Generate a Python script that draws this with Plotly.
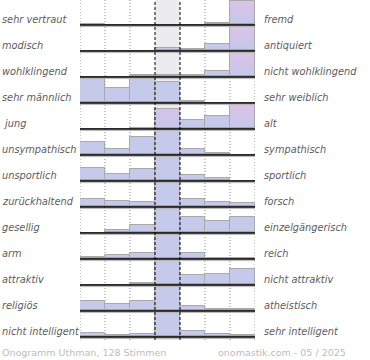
import plotly.graph_objects as go

# ---------------- data ----------------
left_labels = ["sehr vertraut", "modisch", "wohlklingend", "sehr männlich", "\u00a0jung",
               "unsympathisch", "unsportlich", "zurückhaltend", "gesellig", "arm",
               "attraktiv", "religiös", "nicht intelligent"]
right_labels = ["fremd", "antiquiert", "nicht wohlklingend", "sehr weiblich", "alt",
                "sympathisch", "sportlich", "forsch", "einzelgängerisch", "reich",
                "nicht attraktiv", "atheistisch", "sehr intelligent"]
scale_steps = [1, 2, 3, 4, 5, 6, 7]
# share of votes per scale step, relative to the row maximum (=100)
votes = [
    [3, 0, 0, 0, 0, 10, 100],
    [2, 0, 2, 13, 8, 27, 100],
    [0, 0, 7, 9, 9, 24, 100],
    [100, 63, 100, 84, 8, 0, 0],
    [0, 0, 5, 80, 35, 53, 100],
    [53, 23, 75, 100, 23, 7, 0],
    [55, 29, 51, 100, 25, 11, 0],
    [33, 25, 20, 100, 31, 20, 16],
    [0, 11, 32, 100, 67, 47, 67],
    [9, 16, 24, 100, 24, 5, 4],
    [0, 0, 7, 100, 39, 44, 67],
    [39, 28, 41, 100, 20, 8, 8],
    [16, 8, 12, 100, 25, 11, 8],
]
footer_left = "Onogramm Uthman, 128 Stimmen"
footer_right = "onomastik.com - 05 / 2025"

# ---------------- styling ----------------
ROW_PX = 26.0
FULL_PX = 24.5
PLOT_L, PLOT_W, PLOT_H = 80.0, 175.0, 340.0
PINK_TOPPED = {(0, 6), (1, 6), (2, 6), (4, 3), (4, 6)}
N_ROWS = len(votes)


def hexrgb(h):
    h = h.lstrip("#")
    return tuple(int(h[i:i + 2], 16) for i in (0, 2, 4))


def mix(a, b, t):
    a, b = hexrgb(a), hexrgb(b)
    return "rgb(%d,%d,%d)" % tuple(round(a[i] + (b[i] - a[i]) * t) for i in range(3))


def band_color(k, pink):
    if k == 0:
        return "#8c7ec6"
    if k == 1:
        return "#a698d9"
    if pink:
        return mix("#c4c7ea", "#dbc3e5", min(1.0, k / FULL_PX))
    return "#c5c9ea"


xs, bases, hpx, pinks = [], [], [], []
for r, row in enumerate(votes):
    baseline = (N_ROWS - 1 - r)
    for c, v in enumerate(row):
        xs.append(scale_steps[c] - 0.5)
        bases.append(baseline)
        hpx.append(v / 100.0 * FULL_PX)
        pinks.append((r, c) in PINK_TOPPED)

fig = go.Figure()

# gradient-filled bars, drawn as 1px stacked bands
for k in range(int(FULL_PX) + 1):
    ys = [max(0.0, min(1.0, h - k)) / ROW_PX for h in hpx]
    fig.add_trace(go.Bar(
        x=xs, y=ys, base=[b + k / ROW_PX for b in bases], width=1,
        marker=dict(color=[band_color(k, p) for p in pinks], line=dict(width=0)),
        hoverinfo="skip", showlegend=False))

# bar outlines
fig.add_trace(go.Bar(
    x=xs, y=[h / ROW_PX for h in hpx], base=bases, width=1,
    marker=dict(color="rgba(0,0,0,0)", line=dict(color="#a9a9a9", width=1)),
    hoverinfo="skip", showlegend=False))

# baselines with shadow
bx, by, sx, sy = [], [], [], []
for r in range(N_ROWS):
    b = N_ROWS - 1 - r
    bx += [0, len(scale_steps), None]
    by += [b, b, None]
    sx += [0, len(scale_steps), None]
    sy += [b - 1.6 / ROW_PX, b - 1.6 / ROW_PX, None]
fig.add_trace(go.Scatter(x=sx, y=sy, mode="lines", line=dict(color="#b8b8b8", width=1),
                         hoverinfo="skip", showlegend=False))
fig.add_trace(go.Scatter(x=bx, y=by, mode="lines", line=dict(color="#000000", width=1.5),
                         hoverinfo="skip", showlegend=False))

shapes = [dict(type="rect", xref="x", yref="paper", x0=3, x1=4, y0=0, y1=1,
               fillcolor="#ececef", line=dict(width=0), layer="below")]
for xv in [0, 1, 2, 5, 6, 7]:
    shapes.append(dict(type="line", xref="x", yref="paper", x0=xv, x1=xv, y0=0, y1=1,
                       line=dict(color="#8a8a8a", width=1, dash="1px,2px"), layer="below"))
for xv in [3, 4]:
    shapes.append(dict(type="line", xref="x", yref="paper", x0=xv, x1=xv, y0=0, y1=1,
                       line=dict(color="#000000", width=1, dash="3px,2px"), layer="above"))


def px_x(p):
    return (p - PLOT_L) / PLOT_W


def px_y(p):
    return (PLOT_H - p) / PLOT_H


annotations = []
lab_font = dict(family="DejaVu Sans", size=9.8, color="#5c5c5c")
for r in range(N_ROWS):
    yp = px_y(25 + ROW_PX * r - 5.2)
    annotations.append(dict(x=px_x(0), y=yp, xref="paper", yref="paper",
                            text="<i>%s</i>" % left_labels[r],
                            showarrow=False, xanchor="left", yanchor="middle", font=lab_font))
    annotations.append(dict(x=px_x(262), y=yp, xref="paper", yref="paper",
                            text="<i>%s</i>" % right_labels[r],
                            showarrow=False, xanchor="left", yanchor="middle", font=lab_font))

foot_font = dict(family="DejaVu Sans", size=9.5, color="#bdbdbd")
annotations.append(dict(x=px_x(0), y=px_y(352), xref="paper", yref="paper", text=footer_left,
                        showarrow=False, xanchor="left", yanchor="middle", font=foot_font))
annotations.append(dict(x=px_x(348), y=px_y(352), xref="paper", yref="paper", text=footer_right,
                        showarrow=False, xanchor="right", yanchor="middle", font=foot_font))

fig.update_layout(
    width=370, height=360,
    margin=dict(l=80, r=115, t=0, b=20, pad=0),
    paper_bgcolor="white", plot_bgcolor="rgba(0,0,0,0)",
    barmode="overlay", bargap=0,
    xaxis=dict(range=[0, 7], visible=False, fixedrange=True),
    yaxis=dict(range=[-3 / ROW_PX, (N_ROWS - 1) + 25 / ROW_PX], visible=False, fixedrange=True),
    shapes=shapes, annotations=annotations, showlegend=False,
)

fig.write_html("out.html", config={"displayModeBar": False},
               post_script="document.body.style.margin='0';document.body.style.overflow='hidden';")
